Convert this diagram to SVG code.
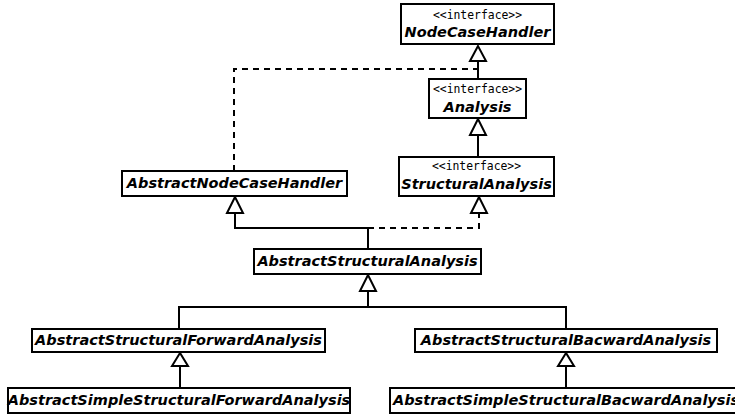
<svg xmlns="http://www.w3.org/2000/svg" width="735" height="415" viewBox="0 0 735 415">
<style>
.box{fill:#fff;stroke:#000;stroke-width:2}
.nm{font-family:"DejaVu Sans",sans-serif;font-weight:bold;font-style:oblique;font-size:14.5px;text-anchor:middle;fill:#000}
.st{font-family:"DejaVu Sans Mono",monospace;font-size:11.4px;text-anchor:middle;fill:#000}
.ln{fill:none;stroke:#000;stroke-width:2}
.dl{fill:none;stroke:#000;stroke-width:2;stroke-dasharray:6,5}
.tri{fill:#fff;stroke:#000;stroke-width:2}
</style>
<rect width="735" height="415" fill="#fff"/>
<g id="connectors">
<path class="dl" d="M234,171 V69 H478"/>
<path class="ln" d="M478,61 V79"/>
<path class="ln" d="M478,135 V157"/>
<path class="ln" d="M235,213 V228 H368 V249"/>
<path class="dl" d="M368,228 H479 V213"/>
<path class="ln" d="M368,291 V307 M179,329 V307 H566 V329"/>
<path class="ln" d="M180,366 V388"/>
<path class="ln" d="M566,366 V388"/>
<polygon class="tri" points="478,46 470,61 486,61"/>
<polygon class="tri" points="478,119 470,135 486,135"/>
<polygon class="tri" points="479,197 471,213 487,213"/>
<polygon class="tri" points="235,197 227,213 243,213"/>
<polygon class="tri" points="368,275 360,291 376,291"/>
<polygon class="tri" points="180,353 172,366 188,366"/>
<polygon class="tri" points="566,353 558,366 574,366"/>
</g>
<g id="NodeCaseHandler">
<rect class="box" x="401" y="4" width="153" height="40"/>
<text class="st" x="477.5" y="19">&lt;&lt;interface&gt;&gt;</text>
<text class="nm" x="477.5" y="37">NodeCaseHandler</text>
</g>
<g id="Analysis">
<rect class="box" x="429" y="79" width="97" height="39"/>
<text class="st" x="477.5" y="93">&lt;&lt;interface&gt;&gt;</text>
<text class="nm" x="477.5" y="112">Analysis</text>
</g>
<g id="StructuralAnalysis">
<rect class="box" x="399" y="157" width="155" height="39"/>
<text class="st" x="476.5" y="170">&lt;&lt;interface&gt;&gt;</text>
<text class="nm" x="476.5" y="189">StructuralAnalysis</text>
</g>
<g id="AbstractNodeCaseHandler">
<rect class="box" x="122" y="171" width="225" height="25"/>
<text class="nm" x="234.5" y="188">AbstractNodeCaseHandler</text>
</g>
<g id="AbstractStructuralAnalysis">
<rect class="box" x="254" y="249" width="227" height="25"/>
<text class="nm" x="367.5" y="266">AbstractStructuralAnalysis</text>
</g>
<g id="AbstractStructuralForwardAnalysis">
<rect class="box" x="32" y="329" width="293" height="23"/>
<text class="nm" x="178.5" y="345">AbstractStructuralForwardAnalysis</text>
</g>
<g id="AbstractStructuralBacwardAnalysis">
<rect class="box" x="415" y="329" width="302" height="23"/>
<text class="nm" x="566" y="345">AbstractStructuralBacwardAnalysis</text>
</g>
<g id="AbstractSimpleStructuralForwardAnalysis">
<rect class="box" x="8" y="388" width="342" height="25"/>
<text class="nm" x="179" y="405">AbstractSimpleStructuralForwardAnalysis</text>
</g>
<g id="AbstractSimpleStructuralBacwardAnalysis">
<rect class="box" x="390" y="388" width="352" height="25"/>
<text class="nm" x="566" y="405">AbstractSimpleStructuralBacwardAnalysis</text>
</g>
</svg>
